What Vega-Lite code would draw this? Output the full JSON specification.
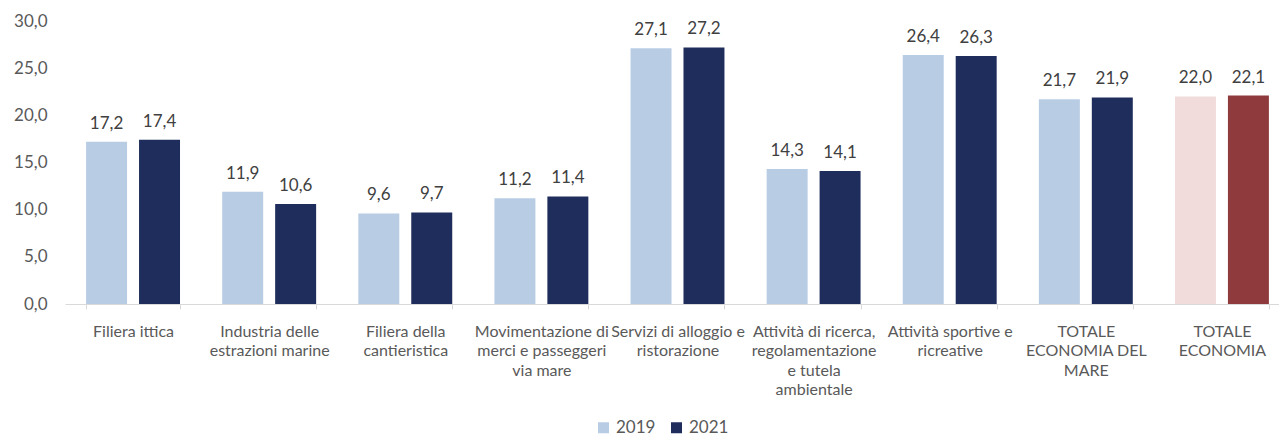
{
  "$schema": "https://vega.github.io/schema/vega-lite/v6.json",
  "width": 1225,
  "height": 283,
  "padding": {"left": 13, "top": 12, "right": 0, "bottom": 0},
  "autosize": {"type": "pad"},
  "config": {
    "view": {"stroke": null},
    "font": "Lato",
    "locale": {"number": {"decimal": ",", "thousands": ".", "grouping": [3], "currency": ["€", ""]}}
  },
  "data": {
    "values": [
      {"cat": "Filiera ittica", "year": "2019", "v": 17.2},
      {"cat": "Filiera ittica", "year": "2021", "v": 17.4},
      {"cat": "Industria delle|estrazioni marine", "year": "2019", "v": 11.9},
      {"cat": "Industria delle|estrazioni marine", "year": "2021", "v": 10.6},
      {"cat": "Filiera della|cantieristica", "year": "2019", "v": 9.6},
      {"cat": "Filiera della|cantieristica", "year": "2021", "v": 9.7},
      {"cat": "Movimentazione di|merci e passeggeri|via mare", "year": "2019", "v": 11.2},
      {"cat": "Movimentazione di|merci e passeggeri|via mare", "year": "2021", "v": 11.4},
      {"cat": "Servizi di alloggio e|ristorazione", "year": "2019", "v": 27.1},
      {"cat": "Servizi di alloggio e|ristorazione", "year": "2021", "v": 27.2},
      {"cat": "Attività di ricerca,|regolamentazione|e tutela|ambientale", "year": "2019", "v": 14.3},
      {"cat": "Attività di ricerca,|regolamentazione|e tutela|ambientale", "year": "2021", "v": 14.1},
      {"cat": "Attività sportive e|ricreative", "year": "2019", "v": 26.4},
      {"cat": "Attività sportive e|ricreative", "year": "2021", "v": 26.3},
      {"cat": "TOTALE|ECONOMIA DEL|MARE", "year": "2019", "v": 21.7},
      {"cat": "TOTALE|ECONOMIA DEL|MARE", "year": "2021", "v": 21.9},
      {"cat": "TOTALE|ECONOMIA", "year": "2019", "v": 22.0},
      {"cat": "TOTALE|ECONOMIA", "year": "2021", "v": 22.1}
    ]
  },
  "encoding": {
    "x": {
      "field": "cat", "type": "nominal", "sort": null,
      "scale": {"paddingInner": 0.31, "paddingOuter": 0.155},
      "axis": {
        "title": null, "labelAngle": 0, "domainColor": "#D9D9D9", "tickColor": "#D9D9D9",
        "tickBand": "extent", "tickSize": 5, "labelExpr": "split(datum.label, '|')",
        "labelFontSize": 16, "labelLineHeight": 19.5, "labelColor": "#595959",
        "labelPadding": 14, "labelLimit": 300
      }
    },
    "xOffset": {"field": "year", "type": "nominal", "scale": {"paddingInner": 0.226}},
    "y": {
      "field": "v", "type": "quantitative",
      "scale": {"domain": [0, 30]},
      "axis": {
        "title": null, "domain": false, "ticks": false, "grid": false,
        "values": [0, 5, 10, 15, 20, 25, 30], "format": ".1f",
        "labelPadding": 18, "labelFontSize": 17, "labelColor": "#595959"
      }
    }
  },
  "layer": [
    {
      "transform": [{"filter": "datum.cat != 'TOTALE|ECONOMIA'"}],
      "mark": {"type": "bar"},
      "encoding": {
        "color": {
          "field": "year", "type": "nominal",
          "scale": {"range": ["#B8CCE4", "#1F2D5C"]},
          "legend": {
            "orient": "none", "legendX": 530, "legendY": 398, "direction": "horizontal",
            "title": null, "symbolType": "square", "symbolSize": 121, "symbolStrokeWidth": 0,
            "labelFontSize": 17, "labelColor": "#595959", "columnPadding": 12, "labelOffset": 4
          }
        }
      }
    },
    {
      "transform": [{"filter": "datum.cat == 'TOTALE|ECONOMIA'"}],
      "mark": {"type": "bar"},
      "encoding": {
        "color": {
          "field": "year", "type": "nominal",
          "scale": {"range": ["#F2DCDB", "#8F3B3E"]},
          "legend": null
        }
      }
    },
    {
      "mark": {"type": "text", "baseline": "alphabetic", "dy": -13, "fontSize": 17, "color": "#404040"},
      "encoding": {"text": {"field": "v", "type": "quantitative", "format": ".1f"}}
    }
  ],
  "resolve": {"scale": {"color": "independent"}}
}
